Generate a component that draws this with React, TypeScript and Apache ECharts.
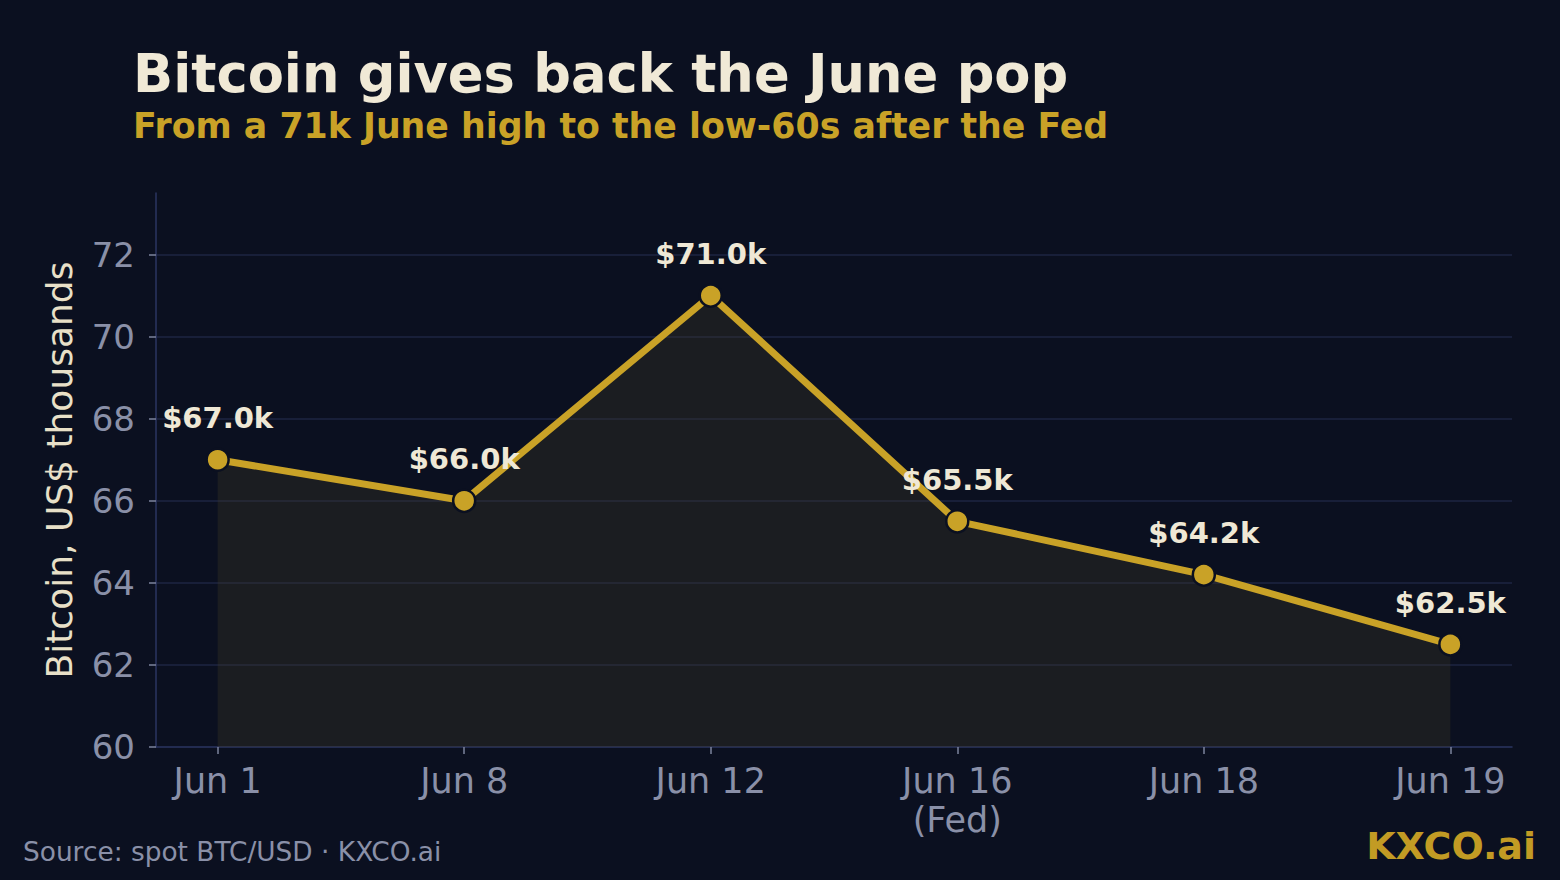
import React, { useEffect, useRef } from "react";
import * as echarts from "echarts";

const categories = ["Jun 1", "Jun 8", "Jun 12", "Jun 16\n(Fed)", "Jun 18", "Jun 19"];
const prices = [67.0, 66.0, 71.0, 65.5, 64.2, 62.5];
const yTicks = [60, 62, 64, 66, 68, 70, 72];
const xTicks = [0, 1, 2, 3, 4, 5];

const TITLE = "Bitcoin gives back the June pop";
const SUBTITLE = "From a 71k June high to the low-60s after the Fed";
const SOURCE = "Source: spot BTC/USD · KXCO.ai";
const BRAND = "KXCO.ai";
const Y_NAME = "Bitcoin, US$ thousands";

const FONT = "'DejaVu Sans', sans-serif";
const BG = "#0b1020";
const GOLD = "#c9a227";
const CREAM = "#efe8d5";
const MUTED = "#8a90a8";

export default function App() {
  const ref = useRef<HTMLDivElement>(null);
  useEffect(() => {
    if (!ref.current) return;
    const chart = echarts.init(ref.current, null, { renderer: "svg" });
    chart.setOption({
      animation: false,
      backgroundColor: BG,
      textStyle: { fontFamily: FONT },
      grid: { left: 156, right: 48, top: 193, bottom: 133 },
      xAxis: {
        type: "value",
        min: -0.25,
        max: 5.25,
        axisLine: { show: true, onZero: false, lineStyle: { color: "#2b3560", width: 1.5 } },
        axisTick: { show: true, customValues: xTicks, length: 7, lineStyle: { color: "#7d839c", width: 1.5 } },
        splitLine: { show: false },
        axisLabel: {
          customValues: xTicks,
          formatter: (v: number) => categories[Math.round(v)] ?? "",
          color: MUTED,
          fontSize: 35,
          lineHeight: 39,
          margin: 14,
          fontFamily: FONT,
        },
      },
      yAxis: {
        type: "value",
        min: 60,
        max: 73.5,
        interval: 2,
        name: Y_NAME,
        nameLocation: "middle",
        nameGap: 79,
        nameTextStyle: { color: "#e8e0c8", fontSize: 36, fontFamily: FONT },
        axisLine: { show: true, onZero: false, lineStyle: { color: "#2b3560", width: 1.5 } },
        axisTick: { show: true, customValues: yTicks, length: 7, lineStyle: { color: "#7d839c", width: 1.5 } },
        splitLine: { show: true, showMaxLine: true, showMinLine: false, lineStyle: { color: "#1e2442", width: 1.5 } },
        axisLabel: {
          customValues: yTicks,
          color: MUTED,
          fontSize: 34,
          margin: 21,
          fontFamily: FONT,
        },
      },
      series: [
        {
          type: "line",
          data: prices.map((p, i) => [i, p]),
          lineStyle: { color: GOLD, width: 7 },
          itemStyle: { color: GOLD, borderColor: BG, borderWidth: 2.5 },
          symbol: "circle",
          symbolSize: 22,
          areaStyle: { color: "rgba(68,60,36,0.42)" },
          label: {
            show: true,
            position: "top",
            distance: 15,
            formatter: (p: any) => "$" + Number(p.value[1]).toFixed(1) + "k",
            color: CREAM,
            fontSize: 29,
            fontWeight: "bold",
            fontFamily: FONT,
          },
          z: 3,
        },
      ],
      graphic: [
        {
          type: "text",
          left: 133,
          top: 47,
          style: { text: TITLE, fill: "#f0e9d6", font: `bold 52.7px ${FONT}` },
        },
        {
          type: "text",
          left: 133,
          top: 108,
          style: { text: SUBTITLE, fill: GOLD, font: `bold 34.75px ${FONT}` },
        },
        {
          type: "text",
          left: 23,
          top: 838,
          style: { text: SOURCE, fill: MUTED, font: `26.4px ${FONT}` },
        },
        {
          type: "text",
          right: 24,
          top: 827,
          style: { text: BRAND, fill: "#c29b24", font: `bold 38px ${FONT}` },
        },
      ],
    });
    return () => chart.dispose();
  }, []);
  return (
    <div
      ref={ref}
      style={{ position: "fixed", left: 0, top: 0, width: 1560, height: 880 }}
    />
  );
}
